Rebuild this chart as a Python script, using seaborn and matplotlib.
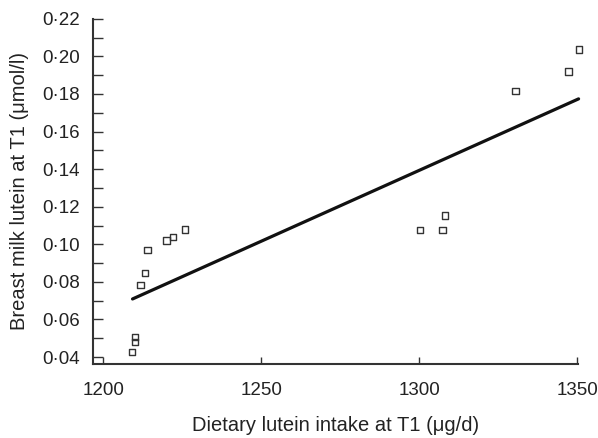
import numpy as np
import pandas as pd
import matplotlib
matplotlib.use('Agg')
import matplotlib.pyplot as plt
import seaborn as sns
from matplotlib.ticker import FuncFormatter, MultipleLocator

# Data
lutein_intake = [1209.2, 1210.1, 1210.1, 1211.9, 1213.3, 1214.0, 1220.0, 1222.1, 1225.9,
                 1300.3, 1307.3, 1308.2, 1330.5, 1347.2, 1350.5]
milk_lutein = [0.0427, 0.0506, 0.0480, 0.0783, 0.0846, 0.0970, 0.1019, 0.1040, 0.1080,
               0.1076, 0.1076, 0.1154, 0.1816, 0.1919, 0.2038]

# fitted line end points
fit_x = [1209.3, 1350.4]
fit_y = [0.0709, 0.1774]

x_ticks = [1200, 1250, 1300, 1350]

data = pd.DataFrame({'intake': lutein_intake, 'lutein': milk_lutein})
fit = pd.DataFrame({'intake': fit_x, 'lutein': fit_y})

sns.set_style('white')
plt.rcParams['font.family'] = ['Liberation Sans', 'DejaVu Sans']

fig = plt.figure(figsize=(5.98, 4.38), dpi=100)
ax = fig.add_axes([0.155, 0.169, 0.812, 0.788])

sns.scatterplot(x='intake', y='lutein', data=data, marker='s', s=22,
                facecolor='none', edgecolor='#333333', linewidth=1.0,
                ax=ax, clip_on=False, zorder=3)
sns.lineplot(x='intake', y='lutein', data=fit, color='#111111', linewidth=2.3,
             ax=ax, clip_on=False)

ax.set_xlim(1196.7, 1350.3)
ax.set_ylim(0.0363, 0.22)
ax.set_xticks(x_ticks)
ax.yaxis.set_major_locator(MultipleLocator(0.02))
ax.yaxis.set_minor_locator(MultipleLocator(0.01))
ax.set_yticks(np.arange(0.04, 0.2201, 0.02))

dot = lambda v, p: f'{v:.2f}'.replace('.', '\u00b7')
ax.yaxis.set_major_formatter(FuncFormatter(dot))

for side in ['top', 'right']:
    ax.spines[side].set_visible(False)
for side in ['left', 'bottom']:
    ax.spines[side].set_linewidth(1.5)
    ax.spines[side].set_color('#333333')

ax.tick_params(axis='y', which='both', left=True, direction='in', length=7.2, width=1.0,
               color='#333333', labelsize=13.5, pad=9, labelcolor='#222222')
ax.tick_params(axis='x', bottom=True, direction='in', length=5, width=1.0,
               color='#333333', labelsize=13.5, pad=13, labelcolor='#222222')

ax.set_xlabel('Dietary lutein intake at T1 (\u03bcg/d)', fontsize=14.5, labelpad=12, color='#222222')
ax.set_ylabel('Breast milk lutein at T1 (\u03bcmol/l)', fontsize=14.5, labelpad=10, color='#222222')

fig.savefig('out.png', dpi=100)
